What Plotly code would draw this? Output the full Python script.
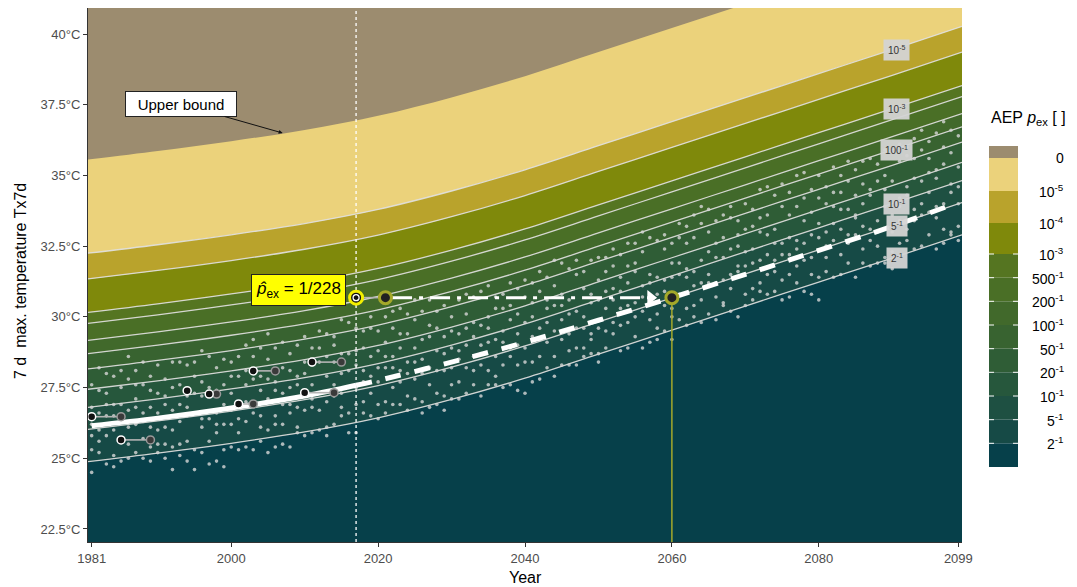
import numpy as np
import plotly.graph_objects as go

# ---------------------------------------------------------------------------
# Return-level curves of the fitted non-stationary model (°C)
# ---------------------------------------------------------------------------
grid_years = [1980.5, 1990, 2000, 2010, 2020, 2030, 2040, 2050, 2060, 2070, 2080, 2090, 2099.5]
upper_bound = [35.56, 35.86, 36.21, 36.61, 37.11, 37.76, 38.51, 39.36, 40.21, 41.06, 41.91, 42.76, 43.58]
rl_1e5 = [32.25, 32.55, 32.90, 33.30, 33.80, 34.45, 35.20, 36.05, 36.90, 37.75, 38.60, 39.45, 40.27]
rl_1e4 = [31.34, 31.64, 31.99, 32.39, 32.89, 33.54, 34.29, 35.14, 35.99, 36.84, 37.69, 38.54, 39.36]
rl_1e3 = [30.16, 30.46, 30.81, 31.21, 31.71, 32.36, 33.11, 33.96, 34.81, 35.66, 36.51, 37.36, 38.18]
rl_500 = [29.77, 30.07, 30.42, 30.82, 31.32, 31.97, 32.72, 33.57, 34.42, 35.27, 36.12, 36.97, 37.79]
rl_200 = [29.17, 29.47, 29.82, 30.22, 30.72, 31.37, 32.12, 32.97, 33.82, 34.67, 35.52, 36.37, 37.19]
rl_100 = [28.70, 29.00, 29.35, 29.75, 30.25, 30.90, 31.65, 32.50, 33.35, 34.20, 35.05, 35.90, 36.72]
rl_50 = [28.16, 28.46, 28.81, 29.21, 29.71, 30.36, 31.11, 31.96, 32.81, 33.66, 34.51, 35.36, 36.18]
rl_20 = [27.44, 27.74, 28.09, 28.49, 28.99, 29.64, 30.39, 31.24, 32.09, 32.94, 33.79, 34.64, 35.46]
rl_10 = [26.80, 27.10, 27.45, 27.85, 28.35, 29.00, 29.75, 30.60, 31.45, 32.30, 33.15, 34.00, 34.82]
rl_5 = [26.02, 26.32, 26.67, 27.07, 27.57, 28.22, 28.97, 29.82, 30.67, 31.52, 32.37, 33.22, 34.04]
rl_2 = [24.88, 25.18, 25.53, 25.93, 26.43, 27.08, 27.83, 28.68, 29.53, 30.38, 31.23, 32.08, 32.90]

# central trend line (solid up to 2017, dashed afterwards)
trend_years = [1981, 1990, 2000, 2010, 2017, 2020, 2030, 2040, 2050, 2060, 2070, 2080, 2090, 2099]
trend_tx = [26.15, 26.42, 26.78, 27.20, 27.58, 27.75, 28.40, 29.10, 29.88, 30.68, 31.50, 32.35, 33.20, 34.05]

# ---------------------------------------------------------------------------
# Simulated annual Tx7d values, one list per ensemble run (1981-2099)
# ---------------------------------------------------------------------------
sim_years = list(range(1981, 2100))
tx_run1 = [26.8, 26.0, 27.3, 26.5, 25.7, 27.8, 27.1, 26.3, 26.8, 28.3,
           26.1, 27.5, 26.9, 25.6, 27.9, 26.4, 27.2, 25.9, 28.5, 26.7,
           27.9, 26.3, 28.6, 27.4, 26.0, 27.7, 29.1, 26.6, 27.9, 28.4,
           26.8, 28.4, 27.9, 29.3, 26.5, 28.1, 28.8, 27.0, 29.6, 28.2,
           29.1, 27.5, 28.9, 30.1, 27.8, 28.5, 29.7, 27.3, 30.4, 28.9,
           29.4, 28.2, 30.7, 29.0, 28.1, 30.3, 29.5, 28.6, 31.0, 29.8,
           30.0, 28.6, 31.4, 29.5, 30.8, 28.8, 30.2, 31.6, 29.4, 30.6,
           30.3, 31.8, 29.7, 31.2, 30.5, 32.3, 29.9, 31.4, 30.9, 32.6,
           31.5, 30.3, 32.8, 31.2, 33.0, 30.7, 32.1, 31.0, 33.4, 31.8,
           32.4, 31.2, 33.6, 32.0, 33.9, 31.5, 32.7, 34.2, 32.1, 33.3,
           33.0, 34.4, 32.2, 33.8, 32.9, 34.7, 33.1, 32.5, 35.0, 33.6,
           34.2, 33.1, 35.6, 34.0, 35.1, 33.5, 36.0, 34.4, 35.3]
tx_run2 = [25.3, 27.4, 25.8, 27.9, 26.9, 25.5, 26.2, 27.6, 25.4, 26.6,
           27.8, 25.4, 28.4, 26.8, 25.3, 27.7, 25.6, 27.4, 26.2, 27.9,
           25.9, 28.1, 27.0, 25.6, 28.5, 26.2, 27.3, 28.7, 25.9, 26.7,
           28.9, 26.7, 29.4, 27.6, 28.7, 26.6, 27.5, 29.5, 27.3, 26.9,
           27.0, 29.6, 27.7, 28.4, 29.9, 27.0, 28.2, 30.2, 28.1, 27.6,
           27.7, 30.1, 28.6, 30.9, 29.6, 27.9, 30.8, 29.9, 28.3, 28.4,
           28.4, 30.9, 29.8, 31.1, 28.3, 30.6, 31.5, 28.9, 30.8, 28.7,
           31.6, 29.4, 32.2, 29.8, 31.9, 30.2, 31.5, 29.6, 32.4, 30.3,
           32.8, 31.7, 30.4, 33.3, 31.5, 32.6, 30.5, 33.5, 31.6, 30.4,
           30.6, 33.5, 32.2, 30.9, 32.6, 34.4, 31.2, 32.6, 34.5, 31.4,
           31.6, 32.7, 35.0, 31.9, 35.2, 32.4, 34.3, 35.4, 32.1, 34.8,
           32.6, 35.7, 33.8, 32.5, 36.2, 34.9, 33.1, 35.8, 33.2]
tx_run3 = [27.6, 25.6, 26.5, 25.1, 27.5, 26.7, 28.1, 25.7, 27.4, 25.5,
           25.0, 26.7, 25.5, 28.3, 26.6, 25.2, 28.6, 26.6, 25.3, 25.4,
           26.9, 27.0, 25.3, 28.9, 27.1, 28.9, 25.5, 27.5, 29.0, 27.2,
           27.6, 29.5, 26.1, 28.4, 27.3, 29.8, 26.9, 28.1, 26.5, 29.5,
           28.6, 28.2, 30.3, 27.2, 28.9, 30.2, 27.6, 28.8, 27.2, 30.0,
           30.6, 29.0, 27.6, 28.3, 31.1, 29.2, 28.3, 27.6, 30.1, 30.7,
           31.2, 29.6, 28.2, 28.6, 29.9, 31.7, 28.9, 30.0, 32.0, 31.3,
           28.9, 30.6, 31.4, 32.6, 29.3, 31.1, 32.8, 30.8, 29.5, 31.4,
           29.9, 33.2, 31.6, 29.8, 32.3, 31.2, 33.6, 30.2, 32.5, 33.1,
           33.8, 32.0, 30.8, 34.3, 31.3, 32.8, 33.9, 30.9, 32.9, 34.2,
           34.6, 33.3, 31.5, 34.8, 33.6, 31.9, 35.6, 33.4, 33.9, 32.3,
           35.5, 34.3, 32.4, 35.9, 33.7, 32.4, 35.4, 33.0, 36.4]
tx_run4 = [24.5, 26.6, 28.0, 26.9, 24.9, 26.1, 25.2, 28.4, 26.1, 27.3,
           26.9, 28.4, 26.3, 27.2, 24.6, 28.8, 26.4, 24.9, 27.6, 28.4,
           28.6, 25.4, 27.8, 26.5, 25.2, 26.5, 28.2, 25.4, 26.8, 29.3,
           25.9, 27.3, 28.6, 26.2, 29.9, 27.5, 29.6, 26.6, 28.6, 27.7,
           26.6, 30.2, 26.9, 29.4, 27.1, 29.2, 30.6, 26.9, 29.3, 28.2,
           28.8, 27.3, 29.8, 27.2, 29.1, 28.6, 27.5, 31.2, 29.4, 28.9,
           29.3, 31.6, 30.3, 30.4, 31.9, 29.4, 29.6, 28.6, 28.7, 29.6,
           30.9, 32.4, 28.8, 30.4, 31.6, 28.9, 30.6, 32.7, 31.3, 29.2,
           30.8, 31.4, 33.6, 32.0, 30.1, 33.4, 31.3, 32.4, 30.0, 32.3,
           31.9, 34.5, 32.9, 31.6, 34.7, 30.7, 31.8, 33.4, 31.5, 32.8,
           32.5, 35.3, 33.8, 32.9, 31.4, 35.5, 32.7, 31.9, 34.5, 35.8,
           33.4, 36.0, 34.9, 33.6, 34.4, 36.5, 34.0, 32.9, 34.6]
tx_run5 = [26.2, 28.2, 24.8, 26.0, 26.4, 28.6, 26.8, 26.6, 24.9, 26.0,
           25.5, 26.0, 27.6, 24.9, 27.3, 26.1, 24.8, 28.2, 26.9, 26.2,
           26.4, 29.0, 26.6, 27.9, 27.8, 25.4, 26.9, 28.1, 27.6, 25.8,
           28.3, 26.0, 27.0, 29.0, 26.8, 25.9, 28.3, 28.9, 27.9, 28.8,
           28.2, 26.9, 29.4, 28.0, 30.6, 28.0, 26.8, 29.6, 28.7, 29.5,
           27.1, 29.6, 28.1, 29.7, 27.6, 30.7, 29.1, 28.9, 27.4, 27.3,
           27.7, 29.2, 30.6, 27.9, 29.2, 28.3, 32.0, 29.6, 30.5, 32.1,
           32.1, 29.8, 30.9, 28.9, 32.6, 30.7, 29.1, 30.1, 32.9, 31.9,
           33.3, 29.7, 31.1, 30.6, 33.8, 29.9, 32.8, 31.5, 31.8, 30.8,
           31.0, 30.9, 34.6, 33.1, 32.2, 33.6, 35.0, 32.0, 33.7, 30.6,
           34.0, 31.4, 33.1, 35.5, 34.3, 33.2, 31.8, 34.8, 31.9, 33.0,
           33.9, 32.7, 36.3, 34.8, 32.9, 33.9, 32.6, 36.6, 34.0]
tx_run6 = [25.8, 25.2, 26.9, 24.7, 28.1, 25.0, 27.6, 25.0, 27.9, 25.2,
           27.2, 24.6, 25.1, 26.5, 28.4, 27.2, 27.5, 26.2, 24.7, 27.3,
           25.3, 27.6, 29.2, 26.1, 29.4, 27.4, 26.2, 26.9, 26.1, 28.0,
           27.1, 28.9, 25.8, 27.2, 28.0, 28.7, 25.9, 27.7, 30.0, 26.4,
           30.0, 28.6, 28.1, 26.7, 28.4, 26.6, 29.3, 28.1, 26.7, 27.1,
           28.5, 30.8, 29.3, 28.7, 30.0, 27.6, 30.3, 30.4, 29.0, 31.3,
           30.5, 27.8, 29.1, 32.0, 30.4, 30.1, 28.3, 31.0, 29.2, 28.4,
           29.5, 31.0, 30.3, 31.8, 30.0, 33.0, 31.2, 29.2, 30.4, 30.0,
           31.9, 32.6, 30.0, 33.9, 31.2, 32.1, 30.4, 33.9, 32.9, 34.0,
           33.2, 33.0, 31.5, 32.6, 30.6, 32.2, 32.4, 35.1, 30.8, 35.0,
           32.1, 33.9, 34.4, 32.6, 33.5, 34.0, 34.5, 33.0, 35.9, 31.7,
           36.1, 34.6, 33.4, 36.6, 35.6, 35.2, 36.9, 34.7, 32.7]

# ---------------------------------------------------------------------------
# Observed events: first year, matching later year, value (°C)
# ---------------------------------------------------------------------------
obs_first_year = [1981, 1985, 1997, 2001, 2003, 2010, 2011]
obs_second_year = [1985, 1989, 1998, 2003, 2006, 2014, 2015]
obs_tx = [26.47, 25.65, 27.27, 26.92, 28.09, 27.32, 28.40]
single_obs_year = [1994]
single_obs_tx = [27.39]

# Event of interest: p_ex = 1/228 in 2017, same level in later years
event_year = 2017
event_tx = 30.68
event_shift_years = [2021, 2060]
event_label = "<i>p\u0302</i><sub>ex</sub> = 1/228"

# ---------------------------------------------------------------------------
# Colour scale for the AEP bands (from the lowest band upwards)
# ---------------------------------------------------------------------------
aep_labels = ["0", "10<sup>-5</sup>", "10<sup>-4</sup>", "10<sup>-3</sup>", "500<sup>-1</sup>",
              "200<sup>-1</sup>", "100<sup>-1</sup>", "50<sup>-1</sup>", "20<sup>-1</sup>",
              "10<sup>-1</sup>", "5<sup>-1</sup>", "2<sup>-1</sup>"]
band_colors = ["#06404a", "#164a46", "#1e5042", "#26573c", "#2f5d36",
               "#386330", "#41692b", "#4a6f26", "#557521",
               "#7f890b", "#b9a32c", "#ebd27b"]
above_bound_color = "#9c8c6f"

boundaries = [rl_2, rl_5, rl_10, rl_20, rl_50, rl_100, rl_200, rl_500,
              rl_1e3, rl_1e4, rl_1e5, upper_bound]
contour_lines = [rl_2, rl_5, rl_10, rl_20, rl_50, rl_100, rl_200, rl_500,
                 rl_1e3, rl_1e4, rl_1e5]

FONT = "Liberation Sans, Arial, Helvetica, sans-serif"
X_RANGE = [1980.5, 2099.5]
Y_RANGE = [22.04, 40.92]

fig = go.Figure()

# filled bands, stacked from the bottom
fig.add_trace(go.Scatter(x=grid_years, y=[Y_RANGE[0] - 3] * len(grid_years),
                         mode="lines", line=dict(width=0), hoverinfo="skip",
                         showlegend=False))
for bound, col in zip(boundaries, band_colors):
    fig.add_trace(go.Scatter(x=grid_years, y=bound, mode="lines",
                             line=dict(width=0, shape="spline"),
                             fill="tonexty", fillcolor=col,
                             hoverinfo="skip", showlegend=False))

# return-level contour lines
for rl in contour_lines:
    fig.add_trace(go.Scatter(x=grid_years, y=rl, mode="lines",
                             line=dict(color="rgba(225,225,225,0.9)", width=1.3, shape="spline"),
                             hoverinfo="skip", showlegend=False))

# ensemble dots
for run in [tx_run1, tx_run2, tx_run3, tx_run4, tx_run5, tx_run6]:
    fig.add_trace(go.Scatter(x=sim_years[:len(run)], y=run, mode="markers",
                             marker=dict(size=3.6, color="rgba(215,215,215,0.8)"),
                             hoverinfo="skip", showlegend=False))

# vertical reference line at the event year
fig.add_trace(go.Scatter(x=[event_year, event_year], y=Y_RANGE, mode="lines",
                         line=dict(color="white", width=1.3, dash="dot"),
                         hoverinfo="skip", showlegend=False))

# trend line: solid for the observed period, dashed for the projection
split = trend_years.index(event_year)
fig.add_trace(go.Scatter(x=trend_years[:split + 1], y=trend_tx[:split + 1], mode="lines",
                         line=dict(color="white", width=5, shape="spline"),
                         hoverinfo="skip", showlegend=False))
fig.add_trace(go.Scatter(x=trend_years[split:], y=trend_tx[split:], mode="lines",
                         line=dict(color="white", width=5, shape="spline", dash="16px,14px"),
                         hoverinfo="skip", showlegend=False))

# vertical drop line from the future equivalent year
fig.add_trace(go.Scatter(x=[event_shift_years[1]] * 2, y=[event_tx, Y_RANGE[0]], mode="lines",
                         line=dict(color="#a4a82a", width=1.5),
                         hoverinfo="skip", showlegend=False))

# observed event pairs
seg_x, seg_y = [], []
for a, b, v in zip(obs_first_year, obs_second_year, obs_tx):
    seg_x += [a, b, None]
    seg_y += [v, v, None]
fig.add_trace(go.Scatter(x=seg_x, y=seg_y, mode="lines",
                         line=dict(color="#b4b4b4", width=1.6),
                         hoverinfo="skip", showlegend=False))
fig.add_trace(go.Scatter(x=obs_second_year, y=obs_tx, mode="markers",
                         marker=dict(size=8, color="#3a3a3a", line=dict(color="#9a9a9a", width=1.5)),
                         hoverinfo="skip", showlegend=False))
fig.add_trace(go.Scatter(x=obs_first_year + single_obs_year, y=obs_tx + single_obs_tx,
                         mode="markers",
                         marker=dict(size=8, color="#111111", line=dict(color="white", width=1.5)),
                         hoverinfo="skip", showlegend=False))

# event level carried forward in time
fig.add_trace(go.Scatter(x=[event_year, event_shift_years[0]], y=[event_tx, event_tx], mode="lines",
                         line=dict(color="#b4b4b4", width=1.6),
                         hoverinfo="skip", showlegend=False))
fig.add_trace(go.Scatter(x=[event_shift_years[0] + 0.9, event_shift_years[1] - 2.6],
                         y=[event_tx, event_tx], mode="lines",
                         line=dict(color="white", width=3, dash="20px,7px,4px,7px"),
                         hoverinfo="skip", showlegend=False))
fig.add_trace(go.Scatter(x=[event_shift_years[1] - 2.9], y=[event_tx], mode="markers",
                         marker=dict(symbol="triangle-right", size=13, color="white"),
                         hoverinfo="skip", showlegend=False))
fig.add_trace(go.Scatter(x=event_shift_years, y=[event_tx] * 2, mode="markers",
                         marker=dict(size=12, color="#222222", line=dict(color="#a4a82a", width=3)),
                         hoverinfo="skip", showlegend=False))
fig.add_trace(go.Scatter(x=[event_year], y=[event_tx], mode="markers",
                         marker=dict(size=13, color="#111111", line=dict(color="#f4f000", width=3)),
                         hoverinfo="skip", showlegend=False))
fig.add_trace(go.Scatter(x=[event_year], y=[event_tx], mode="markers",
                         marker=dict(size=6, color="#111111", line=dict(color="white", width=1.3)),
                         hoverinfo="skip", showlegend=False))

# ---------------------------------------------------------------------------
# Layout, annotations and the stepped colour legend
# ---------------------------------------------------------------------------
W, H = 1077, 587
PL, PR, PT, PB = 88, 962, 8, 542


def fx(px):
    return (px - PL) / (PR - PL)


def fy(py):
    return (PB - py) / (PB - PT)


annotations = []

# labels on selected contour lines
label_col = grid_years.index(2090)
for rl, txt in [(rl_1e5, "10<sup>-5</sup>"), (rl_1e3, "10<sup>-3</sup>"),
                (rl_100, "100<sup>-1</sup>"), (rl_10, "10<sup>-1</sup>"),
                (rl_5, "5<sup>-1</sup>"), (rl_2, "2<sup>-1</sup>")]:
    annotations.append(dict(x=2090.6, y=rl[label_col], text=txt, showarrow=False,
                            font=dict(family=FONT, size=10, color="#333333"),
                            bgcolor="rgba(212,212,212,0.95)", borderpad=4))

annotations.append(dict(x=2007.0, y=36.5, ax=-102, ay=-29, text="Upper bound",
                        showarrow=True, arrowhead=2, arrowsize=0.8, arrowwidth=1,
                        arrowcolor="#111111", font=dict(family=FONT, size=15, color="black"),
                        bgcolor="white", bordercolor="#222222", borderwidth=1,
                        borderpad=3, width=104, height=18))

annotations.append(dict(x=event_year, y=event_tx, text=event_label, showarrow=False,
                        xanchor="right", xshift=-10, yshift=8,
                        font=dict(family=FONT, size=17, color="black"),
                        bgcolor="#ffff00", bordercolor="#222222", borderwidth=1, borderpad=4))

annotations.append(dict(xref="paper", yref="paper", x=0.5, y=fy(577), text="Year",
                        showarrow=False, font=dict(family=FONT, size=16, color="black"),
                        yanchor="middle"))
annotations.append(dict(xref="paper", yref="paper", x=fx(20), y=fy(281),
                        text="7 d\u00a0 max. temperature Tx7d", textangle=-90,
                        showarrow=False, font=dict(family=FONT, size=16, color="black"),
                        xanchor="center", yanchor="middle"))

# legend title
annotations.append(dict(xref="paper", yref="paper", x=fx(989), y=fy(119),
                        text="AEP <i>p</i><sub>ex</sub> [ ]", showarrow=False,
                        xanchor="left", yanchor="middle",
                        font=dict(family=FONT, size=16, color="black")))

shapes = []
legend_edges = [146, 158, 191, 223, 254, 277.7, 301.3, 325, 348.7, 372.3, 396, 419.7, 443.3, 467]
legend_fill = [above_bound_color] + band_colors[::-1]
for i, col in enumerate(legend_fill):
    shapes.append(dict(type="rect", xref="paper", yref="paper",
                       x0=fx(989), x1=fx(1018), y0=fy(legend_edges[i + 1]), y1=fy(legend_edges[i]),
                       fillcolor=col, line=dict(width=0), layer="above"))
for e in legend_edges[4:-1]:
    for xa, xb in [(989, 994), (1013, 1018)]:
        shapes.append(dict(type="line", xref="paper", yref="paper",
                           x0=fx(xa), x1=fx(xb), y0=fy(e), y1=fy(e),
                           line=dict(color="white", width=1), layer="above"))
for lab, e in zip(aep_labels, legend_edges[1:]):
    annotations.append(dict(xref="paper", yref="paper", x=fx(1066), y=fy(e), text=lab,
                            showarrow=False, xanchor="right", yanchor="middle",
                            font=dict(family=FONT, size=14, color="black")))

y_ticks = [22.5, 25, 27.5, 30, 32.5, 35, 37.5, 40]
y_ticktext = ["22.5°C", "25°C", "27.5°C", "30°C", "32.5°C", "35°C", "37.5°C", "40°C"]
x_ticks = [1981, 2000, 2020, 2040, 2060, 2080, 2099]

fig.update_layout(
    width=W, height=H,
    margin=dict(l=PL, r=W - PR, t=PT, b=H - PB),
    paper_bgcolor="white",
    plot_bgcolor=above_bound_color,
    showlegend=False,
    font=dict(family=FONT),
    xaxis=dict(range=X_RANGE, tickvals=x_ticks, ticks="outside", ticklen=4,
               tickcolor="#333333", showline=True, linecolor="#333333", linewidth=1,
               showgrid=False, zeroline=False,
               tickfont=dict(family=FONT, size=13, color="#4d4d4d")),
    yaxis=dict(range=Y_RANGE, tickvals=y_ticks, ticktext=y_ticktext, ticks="outside",
               ticklen=4, tickcolor="#333333", showline=True, linecolor="#333333",
               linewidth=1, showgrid=False, zeroline=False,
               tickfont=dict(family=FONT, size=13, color="#4d4d4d")),
    annotations=annotations,
    shapes=shapes,
)

fig.write_html("out.html")
